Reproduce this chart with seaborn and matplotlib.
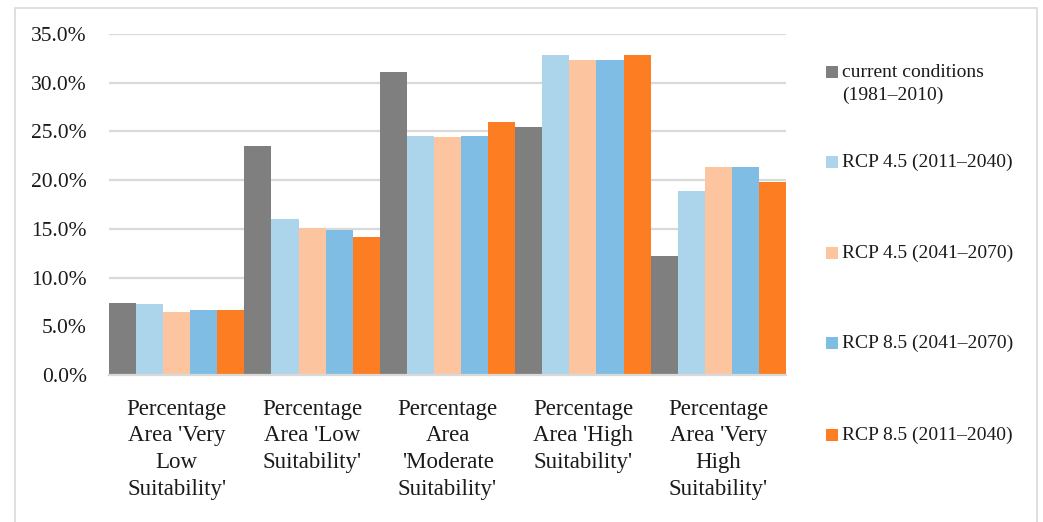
import matplotlib
matplotlib.use("Agg")
import matplotlib.pyplot as plt
from matplotlib.patches import Rectangle
from matplotlib.ticker import FuncFormatter
import pandas as pd
import seaborn as sns

categories = [
    "Percentage\nArea 'Very\nLow\nSuitability'",
    "Percentage\nArea 'Low\nSuitability'",
    "Percentage\nArea\n'Moderate\nSuitability'",
    "Percentage\nArea 'High\nSuitability'",
    "Percentage\nArea 'Very\nHigh\nSuitability'",
]
series_names = [
    "current conditions\n(1981\u20132010)",
    "RCP 4.5 (2011\u20132040)",
    "RCP 4.5 (2041\u20132070)",
    "RCP 8.5 (2041\u20132070)",
    "RCP 8.5 (2011\u20132040)",
]
current_1981_2010 = [7.4, 23.5, 31.1, 25.5, 12.2]
rcp45_2011_2040 = [7.3, 16.0, 24.5, 32.8, 18.9]
rcp45_2041_2070 = [6.5, 15.1, 24.4, 32.3, 21.3]
rcp85_2041_2070 = [6.7, 14.9, 24.5, 32.3, 21.3]
rcp85_2011_2040 = [6.7, 14.2, 26.0, 32.8, 19.8]
colors = ["#7f7f7f", "#acd5ec", "#fdc4a0", "#80bde4", "#fd7d22"]

values = [current_1981_2010, rcp45_2011_2040, rcp45_2041_2070,
          rcp85_2041_2070, rcp85_2011_2040]
rows = []
for name, vals in zip(series_names, values):
    for cat, v in zip(categories, vals):
        rows.append({"category": cat, "series": name, "value": v})
df = pd.DataFrame(rows)

sns.set_theme(style="white")
plt.rcParams["font.family"] = ["Liberation Serif", "DejaVu Serif"]

W, H = 1043, 522
fig = plt.figure(figsize=(W / 100, H / 100), dpi=100)
ax = fig.add_axes([109 / W, 1 - 375 / H, (786 - 109) / W, (375 - 34) / H])

sns.barplot(data=df, x="category", y="value", hue="series",
            order=categories, hue_order=series_names,
            palette=colors, width=1.0, gap=0, saturation=1,
            edgecolor="none", linewidth=0, legend=False, ax=ax)

ax.set_xlim(-0.5, len(categories) - 0.5)
ax.set_ylim(0, 35)
ax.set_yticks([0, 5, 10, 15, 20, 25, 30, 35])
ax.yaxis.set_major_formatter(FuncFormatter(lambda v, p: f"{v:.1f}%"))
ax.grid(axis="y", color="#d9d9d9", linewidth=1.6)
ax.set_axisbelow(True)
for side in ["top", "right", "left"]:
    ax.spines[side].set_visible(False)
ax.spines["bottom"].set_color("#d9d9d9")
ax.spines["bottom"].set_linewidth(1.6)
ax.set_xlabel("")
ax.set_ylabel("")
ax.tick_params(axis="y", length=0, pad=16, labelsize=15.5, labelcolor="#1a1a1a")
ax.tick_params(axis="x", length=0, pad=17, labelsize=16.5, labelcolor="#1a1a1a")
for lbl in ax.get_xticklabels():
    lbl.set_linespacing(1.36)
    lbl.set_verticalalignment("top")

# outer chart frame
fig.patches.append(Rectangle((15 / W, -0.01), (1037 - 15) / W, 1 - 8 / H + 0.01,
                             transform=fig.transFigure, fill=False,
                             edgecolor="#d9d9d9", linewidth=1.2))

# legend column on the right
legend_y = [72, 162, 253, 343, 435]
for name, col, y in zip(series_names, colors, legend_y):
    fig.patches.append(Rectangle((826 / W, 1 - (y + 6) / H), 12 / W, 12 / H,
                                 transform=fig.transFigure, facecolor=col,
                                 edgecolor="none"))
    fig.text(842 / W, 1 - (y - 8) / H, name, ha="left", va="top",
             fontsize=14, color="#1a1a1a", linespacing=1.45)

fig.savefig("out.png", dpi=100)
